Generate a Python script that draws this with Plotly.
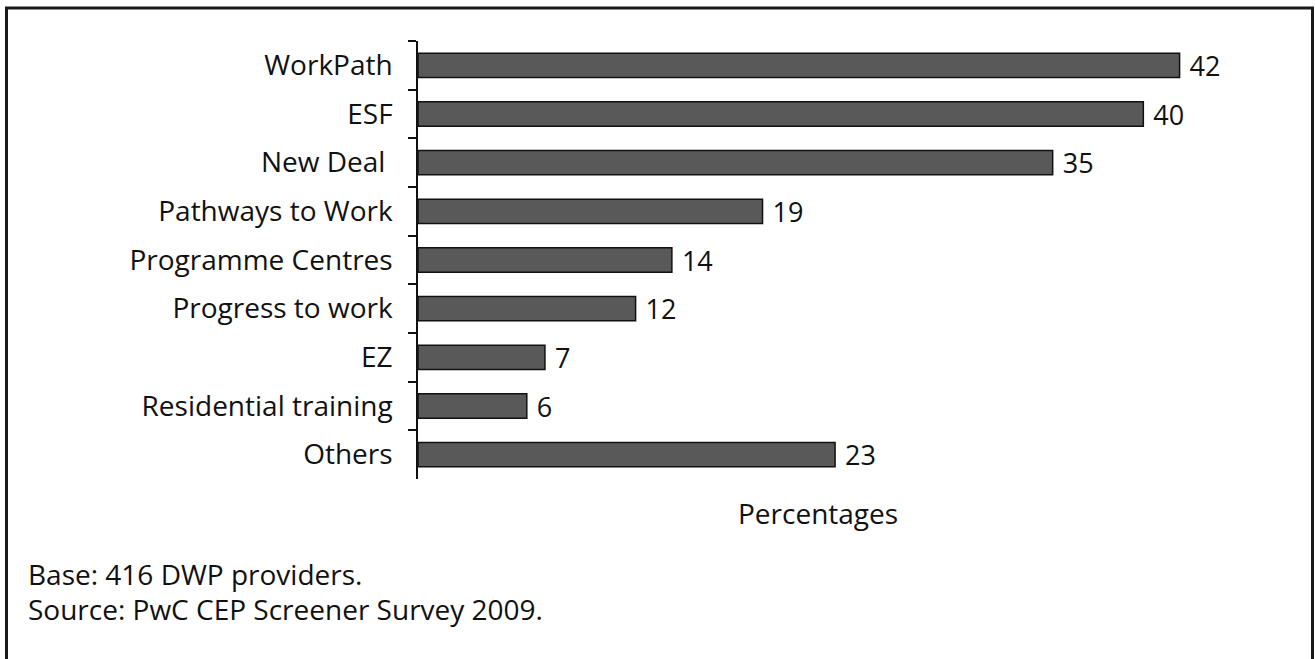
import plotly.graph_objects as go

categories = ["WorkPath", "ESF", "New Deal ", "Pathways to Work", "Programme Centres",
              "Progress to work", "EZ", "Residential training", "Others"]
values = [42, 40, 35, 19, 14, 12, 7, 6, 23]
x_title = "Percentages"
notes = ["Base: 416 DWP providers.", "Source: PwC CEP Screener Survey 2009."]

W, H = 1315, 659
L, R, T, B = 418, 1234, 41, 479
FONT = "Open Sans"
FS = 28

fig = go.Figure(go.Bar(
    x=values, y=categories, orientation="h",
    marker=dict(color="#595959", line=dict(color="#111111", width=1.5)),
    width=0.5,
    text=[f" {v}" for v in values], textposition="outside",
    constraintext="none",
    textfont=dict(size=27, color="#111111", family=FONT),
    cliponaxis=False,
))

fig.update_layout(
    width=W, height=H,
    margin=dict(l=L, r=W - R, t=T, b=H - B),
    paper_bgcolor="white", plot_bgcolor="white",
    showlegend=False,
    font=dict(family=FONT, size=FS, color="#111111"),
    xaxis=dict(range=[0, 45], visible=False),
    yaxis=dict(autorange="reversed", type="category",
               showline=True, linecolor="#111111", linewidth=1.5,
               ticks="outside", ticklen=8, tickcolor="#111111", tickwidth=1.5,
               tickson="boundaries", showgrid=False,
               ticklabelstandoff=18,
               tickfont=dict(size=FS, family=FONT, color="#111111")),
)

def px(x):
    return (x - L) / (R - L)

def py(y):
    return (B - y) / (B - T)

fig.add_shape(type="rect", xref="paper", yref="paper",
              x0=px(6.5), x1=px(1312.5), y0=py(668), y1=py(8),
              line=dict(color="#1a1a1a", width=3))

fig.add_annotation(text=x_title, xref="paper", yref="paper", x=px(818), y=py(534),
                   showarrow=False, font=dict(size=FS, family=FONT, color="#111111"))
for i, n in enumerate(notes):
    fig.add_annotation(text=n, xref="paper", yref="paper", x=px(26), y=py(595 + 35 * i),
                       xanchor="left", showarrow=False,
                       font=dict(size=FS, family=FONT, color="#111111"))

fig.write_html("out.html", config={"displayModeBar": False},
               post_script="document.body.style.margin='0px';")
